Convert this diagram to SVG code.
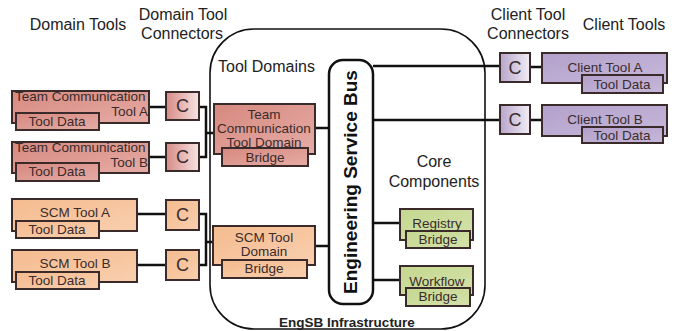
<svg xmlns="http://www.w3.org/2000/svg" width="681" height="331" viewBox="0 0 681 331">
  <defs>
    <linearGradient id="gRed" x1="0" y1="0" x2="1" y2="1">
      <stop offset="0" stop-color="#d6897f"/>
      <stop offset="1" stop-color="#e6aca6"/>
    </linearGradient>
    <linearGradient id="gRedC" x1="0" y1="0" x2="1" y2="0">
      <stop offset="0" stop-color="#d78b86"/>
      <stop offset="1" stop-color="#f6e4e3"/>
    </linearGradient>
    <linearGradient id="gOrange" x1="0" y1="0" x2="1" y2="1">
      <stop offset="0" stop-color="#f4bb8f"/>
      <stop offset="1" stop-color="#f9cfae"/>
    </linearGradient>
    <linearGradient id="gGreen" x1="0" y1="0" x2="1" y2="1">
      <stop offset="0" stop-color="#c4d78f"/>
      <stop offset="1" stop-color="#d5e2ab"/>
    </linearGradient>
    <linearGradient id="gPurple" x1="0" y1="0" x2="1" y2="1">
      <stop offset="0" stop-color="#b3a0cb"/>
      <stop offset="1" stop-color="#c6b8da"/>
    </linearGradient>
    <linearGradient id="gPurpleC" x1="0" y1="0" x2="1" y2="0">
      <stop offset="0" stop-color="#b7a5cc"/>
      <stop offset="1" stop-color="#f1edf5"/>
    </linearGradient>
  </defs>
  <style>
    .hd { font-family: "Liberation Sans", Arial, sans-serif; font-size: 16px; fill: #222; }
    .tx { font-family: "Liberation Sans", Arial, sans-serif; font-size: 13.5px; fill: #3a2c2c; }
    .sm { font-size: 13px; }
    .c { font-family: "Liberation Sans", Arial, sans-serif; font-size: 18px; fill: #3a2c2c; text-anchor: middle; }
    .mid { text-anchor: middle; }
    .end { text-anchor: end; }
    .box { stroke: #3a2a2a; stroke-width: 2; }
    .red { fill: url(#gRed); }
    .redc { fill: url(#gRedC); }
    .org { fill: url(#gOrange); }
    .grn { fill: url(#gGreen); }
    .pur { fill: url(#gPurple); }
    .purc { fill: url(#gPurpleC); }
    .wire { fill: none; stroke: #111; stroke-width: 2.5; }
  </style>

  <rect width="681" height="331" fill="#ffffff"/>

  <!-- EngSB infrastructure frame -->
  <g id="engsb">
    <rect x="210" y="29" width="275" height="300" rx="44" ry="44" fill="none" stroke="#111" stroke-width="1.6"/>
    <text x="347" y="327" class="mid" style="font-family:'Liberation Sans',Arial,sans-serif;font-size:13.5px;font-weight:bold;fill:#222">EngSB Infrastructure</text>
  </g>

  <!-- column headings -->
  <g id="headings">
    <text x="78" y="30" class="hd mid">Domain Tools</text>
    <text x="183" y="20" class="hd mid">Domain Tool</text>
    <text x="182" y="39" class="hd mid">Connectors</text>
    <text x="218" y="72" class="hd">Tool Domains</text>
    <text x="434" y="167" class="hd mid">Core</text>
    <text x="434" y="187" class="hd mid">Components</text>
    <text x="528" y="20" class="hd mid">Client Tool</text>
    <text x="528" y="39" class="hd mid">Connectors</text>
    <text x="624" y="30" class="hd mid">Client Tools</text>
  </g>

  <!-- connectors -->
  <g id="connectors">
    <path class="wire" d="M149,107 H166 M149,157 H166"/>
    <path class="wire" d="M199,107 H206 V157 H199 M206,133 H214"/>
    <path class="wire" d="M137,214 H166 M137,265 H166"/>
    <path class="wire" d="M199,214 H206 V265 H199 M206,242 H213"/>
    <path class="wire" d="M315,128 H329 M315,246 H329"/>
    <path class="wire" d="M373,66 H500 M373,120 H500"/>
    <path class="wire" d="M530,67 H542 M530,120 H542"/>
    <path class="wire" d="M373,223 H400 M373,280 H400"/>
  </g>

  <!-- Engineering Service Bus -->
  <g id="bus">
    <rect x="329" y="60" width="44" height="244" rx="14" ry="14" fill="#fff" stroke="#111" stroke-width="2.5"/>
    <text transform="translate(357,182) rotate(-90)" text-anchor="middle" style="font-family:'Liberation Sans',Arial,sans-serif;font-size:19px;font-weight:bold;fill:#111">Engineering Service Bus</text>
  </g>

  <!-- domain tools -->
  <g id="team-comm-tool-a">
    <rect class="box red" x="12" y="91" width="137" height="32"/>
    <text class="tx" x="15" y="101">Team Communication</text>
    <text class="tx end" x="148" y="116">Tool A</text>
    <rect class="box red" x="16" y="113" width="83" height="17"/>
    <text class="tx mid" x="57" y="126">Tool Data</text>
  </g>
  <g id="team-comm-tool-b">
    <rect class="box red" x="12" y="142" width="137" height="31"/>
    <text class="tx" x="15" y="152">Team Communication</text>
    <text class="tx end" x="148" y="167">Tool B</text>
    <rect class="box red" x="16" y="163" width="83" height="18"/>
    <text class="tx mid" x="57" y="176">Tool Data</text>
  </g>
  <g id="scm-tool-a">
    <rect class="box org" x="12" y="199" width="125" height="32"/>
    <text class="tx mid" x="75" y="217">SCM Tool A</text>
    <rect class="box org" x="16" y="221" width="83" height="17"/>
    <text class="tx mid" x="57" y="234">Tool Data</text>
  </g>
  <g id="scm-tool-b">
    <rect class="box org" x="12" y="250" width="125" height="32"/>
    <text class="tx mid" x="75" y="268">SCM Tool B</text>
    <rect class="box org" x="16" y="272" width="83" height="17"/>
    <text class="tx mid" x="57" y="285">Tool Data</text>
  </g>

  <!-- domain tool connectors -->
  <g id="conn-team-a">
    <rect class="box redc" x="166" y="92" width="33" height="28"/>
    <text class="c" x="182.5" y="112">C</text>
  </g>
  <g id="conn-team-b">
    <rect class="box redc" x="166" y="143" width="33" height="28"/>
    <text class="c" x="182.5" y="163">C</text>
  </g>
  <g id="conn-scm-a">
    <rect class="box org" x="166" y="200" width="33" height="30"/>
    <text class="c" x="182.5" y="221">C</text>
  </g>
  <g id="conn-scm-b">
    <rect class="box org" x="166" y="250" width="33" height="30"/>
    <text class="c" x="182.5" y="271">C</text>
  </g>

  <!-- tool domain bridges -->
  <g id="team-comm-domain">
    <rect class="box red" x="214" y="104" width="101" height="50"/>
    <text class="tx mid" x="264" y="119">Team</text>
    <text class="tx mid" x="264" y="133">Communication</text>
    <text class="tx mid" x="264" y="147">Tool Domain</text>
    <rect class="box red" x="222" y="148" width="86" height="18"/>
    <text class="tx mid" x="265" y="162">Bridge</text>
  </g>
  <g id="scm-domain">
    <rect class="box org" x="213" y="226" width="102" height="39"/>
    <text class="tx mid" x="264" y="242">SCM Tool</text>
    <text class="tx mid" x="264" y="256">Domain</text>
    <rect class="box org" x="222" y="260" width="85" height="18"/>
    <text class="tx mid" x="264" y="273">Bridge</text>
  </g>

  <!-- core components -->
  <g id="registry">
    <rect class="box grn" x="400" y="209" width="73" height="31"/>
    <text class="tx mid" x="437" y="228">Registry</text>
    <rect class="box grn" x="406" y="231" width="64" height="17"/>
    <text class="tx mid" x="438" y="244">Bridge</text>
  </g>
  <g id="workflow">
    <rect class="box grn" x="400" y="266" width="73" height="29"/>
    <text class="tx mid" x="437" y="286">Workflow</text>
    <rect class="box grn" x="406" y="288" width="64" height="18"/>
    <text class="tx mid" x="438" y="301">Bridge</text>
  </g>

  <!-- client tool connectors -->
  <g id="conn-client-a">
    <rect class="box purc" x="500" y="53" width="30" height="29"/>
    <text class="c" x="515" y="74">C</text>
  </g>
  <g id="conn-client-b">
    <rect class="box purc" x="500" y="105" width="30" height="29"/>
    <text class="c" x="515" y="126">C</text>
  </g>

  <!-- client tools -->
  <g id="client-tool-a">
    <rect class="box pur" x="542" y="53" width="125" height="30"/>
    <text class="tx mid" x="605" y="72">Client Tool A</text>
    <rect class="box pur" x="582" y="75" width="81" height="18"/>
    <text class="tx mid" x="622" y="89">Tool Data</text>
  </g>
  <g id="client-tool-b">
    <rect class="box pur" x="542" y="105" width="125" height="31"/>
    <text class="tx mid" x="605" y="124">Client Tool B</text>
    <rect class="box pur" x="582" y="127" width="81" height="16"/>
    <text class="tx mid" x="622" y="140">Tool Data</text>
  </g>
</svg>
